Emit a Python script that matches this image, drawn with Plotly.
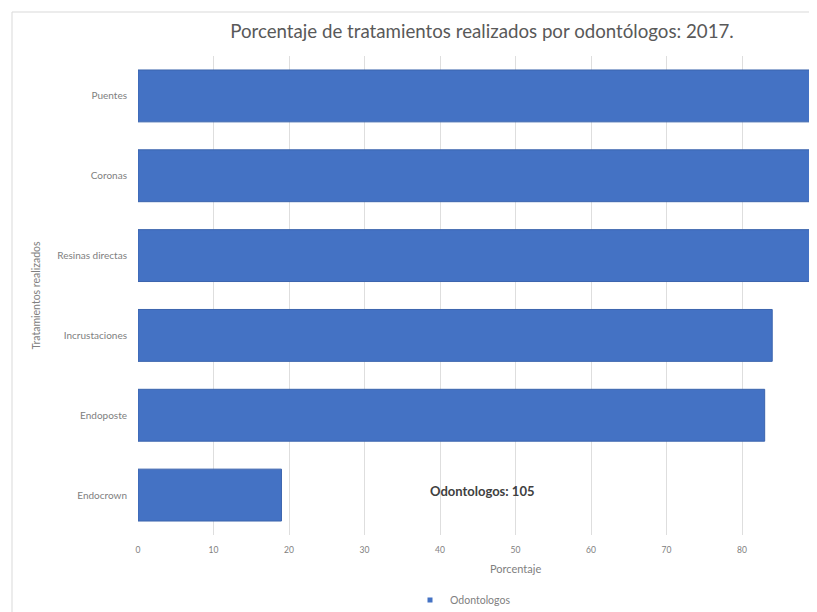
import plotly.graph_objects as go

categorias = ["Puentes", "Coronas", "Resinas directas", "Incrustaciones", "Endoposte", "Endocrown"]
porcentajes = [98, 97, 95, 84, 83, 19]
serie = "Odontologos"
titulo = "Porcentaje de tratamientos realizados por odontólogos: 2017."
nota = "Odontologos: 105"
titulo_x = "Porcentaje"
titulo_y = "Tratamientos realizados"

# page body has an 8px margin; figure coordinates are window - 8
W, H = 809, 604
L, R, T, B = 130, 0, 48, 77
PW, PH = W - L - R, H - T - B

small = "Lato, sans-serif"
big = "Lato, sans-serif"
gray = "#808080"
azul = "#4472C4"

fig = go.Figure()
fig.add_trace(go.Bar(
    y=categorias, x=porcentajes, orientation="h", name=serie,
    marker=dict(color=azul, line=dict(color="#3b64ad", width=1)),
    showlegend=False,
))
fig.add_trace(go.Scatter(
    x=[None], y=[None], mode="markers", name=serie,
    marker=dict(symbol="square", size=5, color=azul), showlegend=True,
))

fig.update_layout(
    width=W, height=H,
    margin=dict(l=L, r=R, t=T, b=B, autoexpand=False),
    paper_bgcolor="white", plot_bgcolor="white",
    bargap=0.35,
    font=dict(family=small, color=gray),
    title=dict(text=titulo, x=(482 - 8) / W, xanchor="center", y=1 - (31 - 8) / H, yanchor="middle",
               font=dict(size=18.7, color="#595959", family=big)),
    xaxis=dict(range=[0, 89.93], dtick=10, showgrid=True, gridcolor="#dedede", gridwidth=1,
               zeroline=False, showline=False, ticks="", automargin=False,
               tickfont=dict(size=8.5, color=gray, family=small), ticklabelstandoff=8),
    yaxis=dict(autorange="reversed", showgrid=False, zeroline=False, showline=False, ticks="",
               automargin=False, tickfont=dict(size=10, color=gray, family=small), ticklabelstandoff=10),
    legend=dict(orientation="h", x=(455 - L) / PW, xanchor="center", y=-(592 - (T + PH)) / PH,
                yanchor="middle", font=dict(size=10.5, color=gray, family=small), itemwidth=30),
    annotations=[
        dict(text="<b>" + nota + "</b>", x=45.6, y=categorias[-1], yshift=4,
             xref="x", yref="y", showarrow=False,
             font=dict(size=13, color="#404040", family=big)),
        dict(text=titulo_x, x=50, xref="x", y=-(560 - (T + PH)) / PH, yref="paper",
             yanchor="middle", showarrow=False, font=dict(size=11, color=gray, family=small)),
        dict(text=titulo_y, x=(27 - L) / PW, xref="paper", y=0.5, yref="paper",
             xanchor="center", yanchor="middle", textangle=-90, showarrow=False,
             font=dict(size=10.5, color=gray, family=small)),
    ],
    shapes=[dict(type="rect", xref="paper", yref="paper",
                 x0=(4 - L) / PW, x1=1.2,
                 y0=-(B + 20) / PH, y1=1 + (T - 4) / PH,
                 line=dict(color="#d9d9d9", width=1), layer="below")],
)

fig.write_html("out.html")
